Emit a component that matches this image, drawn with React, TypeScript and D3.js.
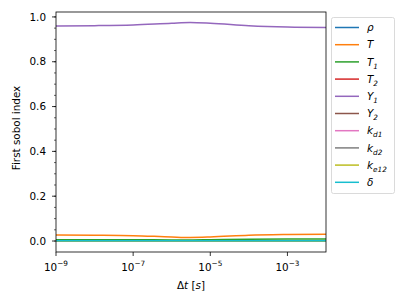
import React, { useEffect, useRef } from 'react';
import * as d3 from 'd3';

// time step samples [s]
const dtValues = [1e-9, 1e-8, 1e-7, 1e-6, 3e-6, 1e-5, 1e-4, 1e-3, 1e-2];

const rhoIdx = [0.001, 0.001, 0.001, 0.001, 0.001, 0.001, 0.001, 0.001, 0.001];
const tIdx = [0.027, 0.026, 0.024, 0.018, 0.016, 0.018, 0.026, 0.029, 0.030];
const t1Idx = [0.006, 0.006, 0.006, 0.005, 0.005, 0.006, 0.008, 0.009, 0.009];
const t2Idx = [0.0, 0.0, 0.0, 0.0, 0.0, 0.0, 0.0, 0.0, 0.0];
const y1Idx = [0.960, 0.961, 0.964, 0.972, 0.975, 0.972, 0.961, 0.955, 0.953];
const y2Idx = [0.0, 0.0, 0.0, 0.0, 0.0, 0.0, 0.0, 0.0, 0.0];
const kd1Idx = [0.0, 0.0, 0.0, 0.0, 0.0, 0.0, 0.0, 0.0, 0.0];
const kd2Idx = [0.0, 0.0, 0.0, 0.0, 0.0, 0.0, 0.0, 0.0, 0.0];
const ke12Idx = [0.0, 0.0, 0.0, 0.0, 0.0, 0.0, 0.0, 0.0, 0.0];
const deltaIdx = [0.001, 0.001, 0.001, 0.001, 0.001, 0.001, 0.001, 0.001, 0.001];

// legend labels: [base, subscript]
const seriesNames: [string, string][] = [
  ['ρ', ''], ['T', ''], ['T', '1'], ['T', '2'], ['Y', '1'],
  ['Y', '2'], ['k', 'd1'], ['k', 'd2'], ['k', 'e12'], ['δ', ''],
];
const seriesValues = [rhoIdx, tIdx, t1Idx, t2Idx, y1Idx, y2Idx, kd1Idx, kd2Idx, ke12Idx, deltaIdx];

const yTicks = [0, 0.2, 0.4, 0.6, 0.8, 1.0];
const xTickExps = [-9, -7, -5, -3];

const App = () => {
  const ref = useRef<SVGSVGElement>(null);

  useEffect(() => {
    const svg = d3.select(ref.current);
    svg.selectAll('*').remove();

    const left = 56, right = 326, top = 12, bottom = 252;
    const x = d3.scaleLog().domain([1e-9, 1e-2]).range([left, right]);
    const y = d3.scaleLinear().domain([-0.049, 1.022]).range([bottom, top]);
    const colors = d3.schemeCategory10;
    const font = 'DejaVu Sans, sans-serif';
    const fs = 10.4;

    // lines
    const line = d3.line<number>()
      .x((_, i) => x(dtValues[i]))
      .y(d => y(d))
      .curve(d3.curveMonotoneX);

    const plot = svg.append('g');
    seriesValues.forEach((vals, k) => {
      plot.append('path')
        .attr('d', line(vals))
        .attr('fill', 'none')
        .attr('stroke', colors[k])
        .attr('stroke-width', 1.5);
    });

    // frame
    svg.append('rect')
      .attr('x', left).attr('y', top)
      .attr('width', right - left).attr('height', bottom - top)
      .attr('fill', 'none').attr('stroke', 'black').attr('stroke-width', 0.8);

    // y ticks
    const yMinor = d3.range(-0.05, 1.0001, 0.05).filter(v => y(v) <= bottom && y(v) >= top);
    yMinor.forEach(v => {
      svg.append('line')
        .attr('x1', left - 2).attr('x2', left)
        .attr('y1', y(v)).attr('y2', y(v))
        .attr('stroke', 'black').attr('stroke-width', 0.6);
    });
    yTicks.forEach(v => {
      svg.append('line')
        .attr('x1', left - 4).attr('x2', left)
        .attr('y1', y(v)).attr('y2', y(v))
        .attr('stroke', 'black').attr('stroke-width', 0.8);
      svg.append('text')
        .attr('x', left - 10).attr('y', y(v))
        .attr('dy', '0.35em')
        .attr('text-anchor', 'end')
        .attr('font-family', font).attr('font-size', fs)
        .text(v.toFixed(1));
    });

    // x ticks
    xTickExps.forEach(e => {
      const px = x(Math.pow(10, e));
      svg.append('line')
        .attr('x1', px).attr('x2', px)
        .attr('y1', bottom).attr('y2', bottom + 4)
        .attr('stroke', 'black').attr('stroke-width', 0.8);
      const t = svg.append('text')
        .attr('x', px).attr('y', 270.5)
        .attr('text-anchor', 'middle')
        .attr('font-family', font).attr('font-size', fs);
      t.append('tspan').text('10');
      t.append('tspan').attr('dy', -4.5).attr('font-size', 7.3).text('−' + Math.abs(e));
    });

    // axis labels
    const xl = svg.append('text')
      .attr('x', (left + right) / 2).attr('y', 289)
      .attr('text-anchor', 'middle')
      .attr('font-family', font).attr('font-size', fs);
    xl.append('tspan').text('Δ');
    xl.append('tspan').attr('font-style', 'italic').text('t');
    xl.append('tspan').text(' [');
    xl.append('tspan').attr('font-style', 'italic').text('s');
    xl.append('tspan').text(']');

    svg.append('text')
      .attr('transform', `translate(20, 128) rotate(-90)`)
      .attr('text-anchor', 'middle')
      .attr('font-family', font).attr('font-size', fs)
      .text('First sobol index');

    // legend
    const lg = svg.append('g');
    lg.append('rect')
      .attr('x', 331.5).attr('y', 17.5)
      .attr('width', 63).attr('height', 176)
      .attr('rx', 2)
      .attr('fill', 'white').attr('stroke', '#d0d0d0').attr('stroke-width', 0.8);
    seriesNames.forEach(([base, sub], k) => {
      const cy = 27.5 + k * 17.2;
      lg.append('line')
        .attr('x1', 335).attr('x2', 359)
        .attr('y1', cy).attr('y2', cy)
        .attr('stroke', colors[k]).attr('stroke-width', 1.5);
      const t = lg.append('text')
        .attr('x', 367).attr('y', cy)
        .attr('dy', '0.35em')
        .attr('font-family', font).attr('font-size', fs)
        .attr('font-style', 'italic');
      t.append('tspan').text(base);
      if (sub) {
        t.append('tspan').attr('dy', 3).attr('font-size', 7.3).text(sub);
      }
    });
  }, []);

  return <svg ref={ref} width={407} height={305} style={{ position: 'absolute', left: 0, top: 0 }} />;
};

export default App;
